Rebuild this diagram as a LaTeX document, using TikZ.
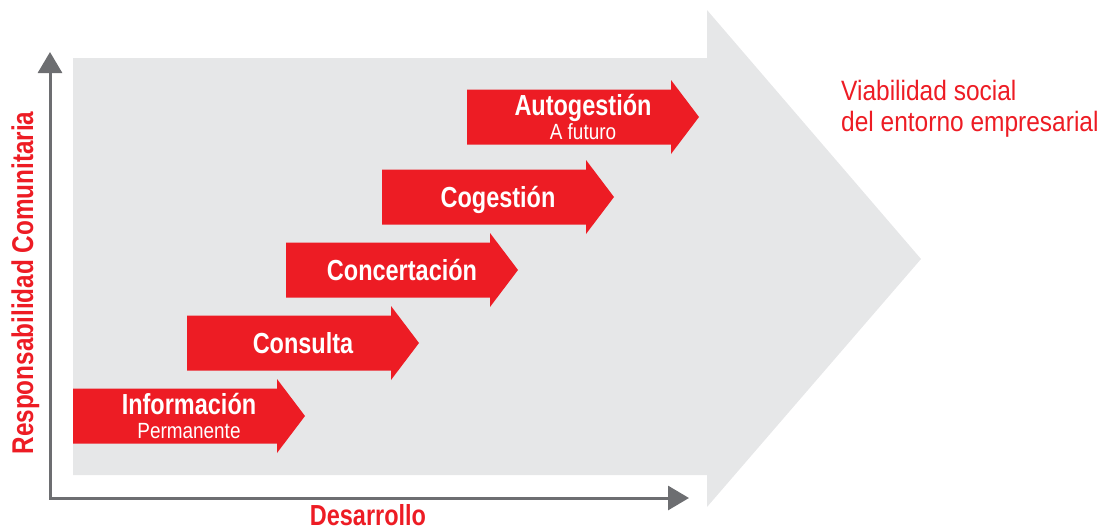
\documentclass[tikz,border=0pt]{standalone}
\usepackage{fontspec}
\setmainfont{Liberation Sans}
\newfontfamily\headfont[FakeStretch=0.81]{Liberation Sans}
\newfontfamily\notefont[FakeStretch=0.86]{Liberation Sans}
\newfontfamily\goalfont[FakeStretch=0.875]{Liberation Sans}
\usetikzlibrary{arrows.meta}

\definecolor{brandred}{HTML}{ED1C24}
\definecolor{panelgray}{HTML}{E6E7E8}
\definecolor{axisgray}{HTML}{6D6E71}

\tikzset{
  stepbox/.style={fill=brandred},
  steplabel/.style={text=white, inner sep=0pt, font=\headfont\bfseries\fontsize{29}{29}\selectfont},
  stepnote/.style={text=white, inner sep=0pt, font=\notefont\fontsize{22}{22}\selectfont},
  axisline/.style={draw=axisgray, line width=3pt, {Triangle[length=21pt,width=24pt]}-{Triangle[length=21pt,width=24pt]}},
  axislabel/.style={text=brandred, inner sep=0pt, font=\headfont\bfseries\fontsize{29}{29}\selectfont},
}

\begin{document}
\begin{tikzpicture}[x=1pt,y=-1pt]
\useasboundingbox (0,0) rectangle (1104,530);

% big background arrow
\fill[panelgray] (73,58) -- (707,58) -- (707,10) -- (921,259) -- (707,507) -- (707,475) -- (73,475) -- cycle;

% axes
\coordinate (top) at (50,52);
\coordinate (corner) at (50,498);
\coordinate (right) at (689,498);
\draw[axisline] (top) -- (corner) -- (right);
\node[axislabel, anchor=base] (xlabel) at (368,525.5) {Desarrollo};
\node[axislabel, anchor=base, rotate=90, font=\headfont\bfseries\fontsize{30}{30}\selectfont] (ylabel) at (33,283) {Responsabilidad Comunitaria};

% steps
\foreach \sx/\sy/\sname/\stext/\sdy in {73/416/info/Información/-2, 187/343/cons/Consulta/10.5,
    286/270/conc/Concertación/10.5, 382/197/coge/Cogestión/10.5, 467/117/auto/Autogestión/-2}{
  \fill[stepbox] (\sx,\sy-27.5) -- (\sx+204,\sy-27.5) -- (\sx+204,\sy-37) -- (\sx+232,\sy)
    -- (\sx+204,\sy+37) -- (\sx+204,\sy+27.5) -- (\sx,\sy+27.5) -- cycle;
  \node[steplabel, anchor=base] (\sname) at (\sx+116,\sy+\sdy) {\stext};
}
\node[stepnote, anchor=base] (info-note) at ([yshift=-24pt]info.base) {Permanente};
\node[stepnote, anchor=base] (auto-note) at ([yshift=-24pt]auto.base) {A futuro};

% goal
\node[text=brandred, inner sep=0pt, anchor=north west, align=left,
  font=\goalfont\fontsize{28}{31}\selectfont] (goal) at (841,80) {Viabilidad social\\del entorno empresarial};

\end{tikzpicture}
\end{document}
